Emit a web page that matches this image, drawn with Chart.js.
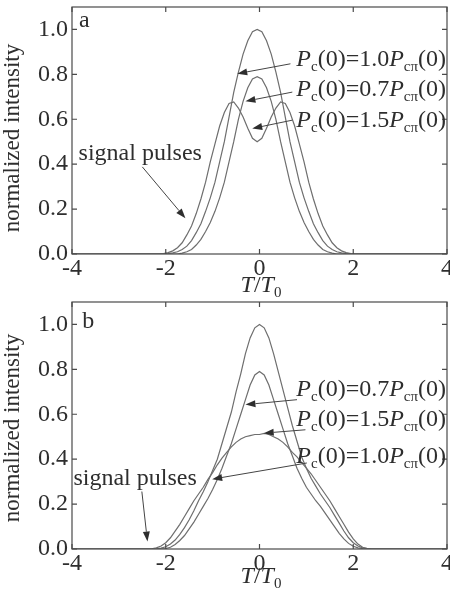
<!DOCTYPE html>
<html><head><meta charset="utf-8">
<script src="https://cdn.jsdelivr.net/npm/chart.js@4"></script>
<style>
html,body{margin:0;padding:0;background:#fff;}
#wrap{position:relative;width:450px;height:597px;overflow:hidden;background:#fff;}
.c{position:absolute;left:0;width:450px;height:300px;}
#ca{top:0}
#cb{top:297px}
</style></head><body>
<div id="wrap">
<div class="c" id="ca"><canvas id="chartA" width="450" height="300"></canvas></div>
<div class="c" id="cb"><canvas id="chartB" width="450" height="300"></canvas></div>
</div>
<script>
// ---- tick labels ----
const xTicks = [-4, -2, 0, 2, 4];
const yTicks = [0, 0.2, 0.4, 0.6, 0.8, 1.0];

// ---- panel a (T/T0 grid) ----
const timeA = [-4, -2.55,-2.45,-2.35,-2.25,-2.15,-2.05,-1.95,-1.85,-1.75,-1.65,-1.55,-1.45,-1.35,-1.25,-1.15,-1.05,-0.95,-0.85,-0.75,-0.65,-0.55,-0.45,-0.35,-0.25,-0.15,-0.05,0.05,0.15,0.25,0.35,0.45,0.55,0.65,0.75,0.85,0.95,1.05,1.15,1.25,1.35,1.45,1.55,1.65,1.75,1.85,1.95,2.05,2.15,2.25,2.35,2.45, 4];
// Pc(0)=1.0Pcπ(0)
const intensityA_10 = [0, 0,0,0,0,0,0,0.002,0.005,0.01,0.02,0.035,0.06,0.095,0.135,0.19,0.25,0.32,0.41,0.50,0.61,0.72,0.81,0.89,0.95,0.99, 1.0, 0.99,0.95,0.89,0.81,0.72,0.61,0.50,0.41,0.32,0.25,0.19,0.135,0.095,0.06,0.035,0.02,0.01,0.005,0.002,0,0,0,0,0,0, 0];
// Pc(0)=0.7Pcπ(0)
const intensityA_07 = [0, 0,0,0,0,0,0,0,0,0,0.004,0.01,0.02,0.04,0.065,0.10,0.14,0.19,0.25,0.32,0.41,0.50,0.60,0.68,0.74,0.78, 0.79, 0.78,0.74,0.68,0.60,0.50,0.41,0.32,0.25,0.19,0.14,0.10,0.065,0.04,0.02,0.01,0.004,0,0,0,0,0,0,0,0,0, 0];
// Pc(0)=1.5Pcπ(0)
const intensityA_15 = [0, 0,0,0,0,0,0.002,0.006,0.014,0.028,0.05,0.085,0.125,0.18,0.245,0.32,0.41,0.49,0.57,0.63,0.67,0.677,0.65,0.61,0.56,0.515, 0.50, 0.515,0.56,0.61,0.65,0.677,0.67,0.63,0.57,0.49,0.41,0.32,0.245,0.18,0.125,0.085,0.05,0.028,0.014,0.006,0.002,0,0,0,0,0, 0];

// ---- panel b ----
const timeB = [-4, -2.5,-2.4,-2.3,-2.2,-2.1,-2.0,-1.9,-1.8,-1.7,-1.6,-1.5,-1.4,-1.3,-1.2,-1.1,-1.0,-0.9,-0.8,-0.7,-0.6,-0.5,-0.4,-0.3,-0.2,-0.1,0,0.1,0.2,0.3,0.4,0.5,0.6,0.7,0.8,0.9,1.0,1.1,1.2,1.3,1.4,1.5,1.6,1.7,1.8,1.9,2.0,2.1,2.2,2.3,2.4,2.5, 4];
const intensityB_10 = [0, 0,0,0,0.001,0.004,0.01,0.022,0.04,0.065,0.095,0.13,0.17,0.215,0.255,0.30,0.35,0.40,0.47,0.54,0.61,0.70,0.78,0.87,0.94,0.985, 1.0, 0.985,0.94,0.87,0.79,0.71,0.63,0.55,0.48,0.41,0.36,0.315,0.28,0.245,0.215,0.185,0.15,0.115,0.08,0.05,0.028,0.013,0.005,0.002,0,0, 0];
const intensityB_07 = [0, 0,0,0,0,0,0.002,0.008,0.02,0.038,0.06,0.09,0.12,0.155,0.19,0.225,0.265,0.31,0.36,0.415,0.47,0.535,0.6,0.665,0.73,0.775, 0.79, 0.775,0.73,0.665,0.6,0.535,0.47,0.415,0.36,0.315,0.275,0.245,0.215,0.19,0.16,0.13,0.1,0.07,0.045,0.025,0.012,0.005,0.002,0,0,0, 0];
const intensityB_15 = [0, 0,0,0.001,0.005,0.013,0.028,0.05,0.08,0.11,0.145,0.18,0.215,0.245,0.275,0.31,0.34,0.375,0.405,0.43,0.455,0.475,0.49,0.5,0.505,0.51, 0.51, 0.515,0.51,0.5,0.49,0.475,0.455,0.43,0.41,0.385,0.36,0.335,0.305,0.275,0.245,0.215,0.18,0.145,0.11,0.075,0.045,0.022,0.008,0.002,0,0, 0];

const ratioLabelsA = ['1.0', '0.7', '1.5'];
const ratioLabelsB = ['0.7', '1.5', '1.0'];

const SERIF = "'Liberation Serif','Times New Roman',serif";
const TXT = '#2e2e2e';
const LINE = '#6e6e6e';

function series(xs, ys){
  return {data: xs.map((x,i)=>({x:x, y:ys[i]})), showLine:true, borderColor:LINE, borderWidth:1.2,
          pointRadius:0, fill:false, tension:0};
}

function richParts(val){
  const R='24px '+SERIF, I='italic 24px '+SERIF, S='15px '+SERIF;
  return [{t:'P',f:I},{t:'c',f:S,dy:5},{t:'(0)='+val,f:R},{t:'P',f:I},{t:'cπ',f:S,dy:5},{t:'(0)',f:R}];
}
function richWidth(ctx, parts){ let w=0; parts.forEach(p=>{ctx.font=p.f; w+=ctx.measureText(p.t).width;}); return w; }
function drawRich(ctx, parts, x, y){
  let cx=x; parts.forEach(p=>{ ctx.font=p.f; ctx.fillText(p.t, cx, y+(p.dy||0)); cx+=ctx.measureText(p.t).width; });
}
function arrow(ctx, x1,y1,x2,y2){
  const a=Math.atan2(y2-y1,x2-x1), L=10, W=3.5;
  const bx=x2-L*Math.cos(a), by=y2-L*Math.sin(a);
  ctx.beginPath(); ctx.moveTo(x1,y1); ctx.lineTo(bx,by); ctx.stroke();
  ctx.beginPath(); ctx.moveTo(x2,y2);
  ctx.lineTo(bx+W*Math.sin(a), by-W*Math.cos(a));
  ctx.lineTo(bx-W*Math.sin(a), by+W*Math.cos(a));
  ctx.closePath(); ctx.fill();
}

const decor = {
  id:'decor',
  afterDraw(chart, args, o){
    const ctx=chart.ctx, xs=chart.scales.x, ys=chart.scales.y, ca=chart.chartArea;
    const px=v=>xs.getPixelForValue(v), py=v=>ys.getPixelForValue(v);
    ctx.save();
    // frame and inward ticks
    ctx.strokeStyle='#4a4a4a'; ctx.lineWidth=1.2;
    ctx.strokeRect(ca.left, ca.top, ca.right-ca.left, ca.bottom-ca.top);
    ctx.beginPath();
    xTicks.forEach(v=>{ const X=px(v); ctx.moveTo(X,ca.bottom); ctx.lineTo(X,ca.bottom-5); ctx.moveTo(X,ca.top); ctx.lineTo(X,ca.top+5); });
    yTicks.forEach(v=>{ const Y=py(v); ctx.moveTo(ca.left,Y); ctx.lineTo(ca.left+5,Y); ctx.moveTo(ca.right,Y); ctx.lineTo(ca.right-5,Y); });
    ctx.stroke();
    ctx.fillStyle=TXT; ctx.strokeStyle='#444'; ctx.lineWidth=1;
    ctx.textBaseline='alphabetic'; ctx.textAlign='left';
    // panel letter
    ctx.font='24px '+SERIF; ctx.fillText(o.letter.t, px(o.letter.x), py(o.letter.y));
    // ratio labels with arrows
    o.labels.forEach(l=>{
      const parts=richParts(l.val); const w=richWidth(ctx,parts);
      drawRich(ctx, parts, px(l.right)-w, py(l.y));
      arrow(ctx, px(l.from[0]), py(l.from[1]), px(l.to[0]), py(l.to[1]));
    });
    // signal pulses
    ctx.font='24px '+SERIF; ctx.fillText('signal pulses', px(o.sig.x), py(o.sig.y));
    arrow(ctx, px(o.sig.from[0]), py(o.sig.from[1]), px(o.sig.to[0]), py(o.sig.to[1]));
    // x title T/T0
    const tparts=[{t:'T',f:'italic 24px '+SERIF},{t:'/',f:'24px '+SERIF},{t:'T',f:'italic 24px '+SERIF},{t:'0',f:'15px '+SERIF,dy:5}];
    const tw=richWidth(ctx,tparts);
    drawRich(ctx, tparts, o.xTitle.cx - tw/2, o.xTitle.base);
    // y title
    ctx.save(); ctx.translate(o.yTitle.cx, o.yTitle.cy); ctx.rotate(-Math.PI/2);
    ctx.font='23px '+SERIF; ctx.textAlign='center'; ctx.textBaseline='middle';
    ctx.fillText('normalized intensity', 0, 0); ctx.restore();
    ctx.restore();
  }
};

function makeChart(id, xsArr, dsets, pad, xh, deco){
  return new Chart(document.getElementById(id), {
    type:'scatter',
    data:{datasets: dsets.map(d=>series(xsArr, d))},
    options:{
      responsive:false, animation:false, devicePixelRatio:1,
      layout:{padding:{top:pad.top, right:3, left:0, bottom:0}},
      plugins:{legend:{display:false}, tooltip:{enabled:false}, decor:deco},
      scales:{
        x:{type:'linear', min:-4, max:4,
          afterBuildTicks:s=>{ s.ticks = xTicks.map(v=>({value:v})); },
          afterFit:s=>{ s.height=xh; s.paddingLeft=0; s.paddingRight=0; },
          grid:{display:false, drawTicks:false}, border:{display:false},
          ticks:{font:{family:SERIF,size:24}, color:TXT, padding:0, maxRotation:0, autoSkip:false, callback:v=>String(v)}},
        y:{type:'linear', min:0, max:1.1,
          afterBuildTicks:s=>{ s.ticks = yTicks.map(v=>({value:v})); },
          afterFit:s=>{ s.width=72; s.paddingTop=0; s.paddingBottom=0; },
          grid:{display:false, drawTicks:false}, border:{display:false},
          ticks:{font:{family:SERIF,size:24}, color:TXT, padding:4, autoSkip:false, callback:v=>v.toFixed(1)}}
      }
    },
    plugins:[decor]
  });
}

makeChart('chartA', timeA, [intensityA_10, intensityA_07, intensityA_15], {top:7}, 46, {
  letter:{t:'a', x:-3.85, y:1.01},
  labels:[
    {val:ratioLabelsA[0], right:3.98, y:0.836, from:[0.66,0.847], to:[-0.475,0.803]},
    {val:ratioLabelsA[1], right:3.98, y:0.702, from:[0.70,0.721], to:[-0.30,0.68]},
    {val:ratioLabelsA[2], right:3.98, y:0.564, from:[0.70,0.596], to:[-0.155,0.559]}
  ],
  sig:{x:-3.86, y:0.418, from:[-2.5,0.388], to:[-1.58,0.159]},
  xTitle:{cx:261, base:292},
  yTitle:{cx:13, cy:138}
});

makeChart('chartB', timeB, [intensityB_10, intensityB_07, intensityB_15], {top:5}, 48, {
  letter:{t:'b', x:-3.78, y:0.983},
  labels:[
    {val:ratioLabelsB[0], right:3.98, y:0.683, from:[0.80,0.665], to:[-0.30,0.643]},
    {val:ratioLabelsB[1], right:3.98, y:0.549, from:[0.98,0.531], to:[0.09,0.516]},
    {val:ratioLabelsB[2], right:3.98, y:0.384, from:[1.01,0.383], to:[-1.01,0.311]}
  ],
  sig:{x:-3.97, y:0.284, from:[-2.51,0.256], to:[-2.39,0.033]},
  xTitle:{cx:261, base:286},
  yTitle:{cx:13, cy:131}
});
</script>
</body></html>
